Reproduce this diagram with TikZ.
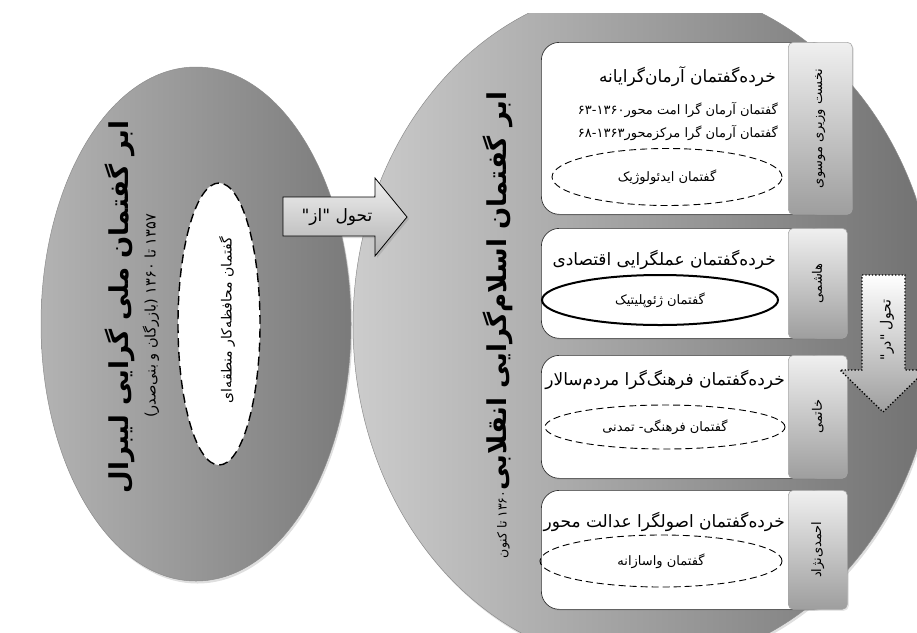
\documentclass[tikz,border=0pt]{standalone}
\usepackage{fontspec}
\usepackage{tikz}
\usetikzlibrary{positioning}
\usetikzlibrary{shapes.geometric}
\usetikzlibrary{shadows}
\TeXXeTstate=1
\newfontfamily\arabicfont[Script=Arabic]{DejaVu Sans}
\newcommand{\pers}[1]{{\arabicfont\beginR #1\endR}}
\newcommand{\digs}[1]{\beginL#1\endL{}}
\newcommand{\zw}{^^^^200c}
\tikzstyle{bigell}=[draw=black!45, ellipse, line width=0.5pt, drop shadow={opacity=0.25, shadow xshift=1.5pt, shadow yshift=-2.5pt}]
\tikzstyle{innerell}=[draw, ellipse, fill=white, dash pattern=on 9pt off 5pt, line width=1.4pt]
\tikzstyle{panel}=[draw=black!80, rectangle, rounded corners=18pt, fill=white, line width=0.7pt, anchor=north west, drop shadow={opacity=0.2, shadow xshift=1.5pt, shadow yshift=-1.5pt}]
\tikzstyle{tab}=[draw=black!35, rectangle, rounded corners=5pt, top color=black!6, bottom color=black!38, line width=0.6pt, anchor=north west, drop shadow={opacity=0.2, shadow xshift=1.5pt, shadow yshift=-1.5pt}]
\tikzstyle{subell}=[draw, ellipse, line width=0.9pt, dash pattern=on 7pt off 4pt]
\tikzstyle{solidell}=[draw, ellipse, line width=2pt]
\tikzstyle{ptitle}=[font=\fontsize{17}{17}\selectfont, inner sep=0pt, anchor=east]
\tikzstyle{pline}=[font=\fontsize{13}{13}\selectfont, inner sep=0pt]
\tikzstyle{elltext}=[font=\fontsize{13}{13}\selectfont]
\tikzstyle{tabtext}=[rotate=90, font=\fontsize{13}{13}\selectfont]
\tikzstyle{shiftarrow}=[draw, line width=0.8pt, top color=black!6, bottom color=black!30, drop shadow={opacity=0.3, shadow xshift=2pt, shadow yshift=-2pt}]

\begin{document}
\begin{tikzpicture}[x=1pt, y=-1pt, inner sep=2pt]
\useasboundingbox (0,0) rectangle (917,632);
\clip (0,13) rectangle (917,632);

\node (isl) [bigell, minimum width=584pt, minimum height=680pt, left color=black!20, right color=black!56] at (645,325) {};
\node (lib) [bigell, minimum width=310pt, minimum height=514pt, left color=black!30, middle color=black!21, right color=black!52] at (196,324) {};

\node (libt) [rotate=90, font=\bfseries\fontsize{26}{26}\selectfont] at (120,307) {\pers{ابر گفتمان ملی گرایی لیبرال}};
\node (libs) [rotate=90, font=\fontsize{14.5}{14.5}\selectfont] at (151,316) {\pers{\digs{۱۳۵۷} تا \digs{۱۳۶۰} (\kern0pt بازرگان و بنی\zw صدر\kern0pt)}};
\node (libe) [innerell, minimum width=82pt, minimum height=282pt] at (219,324) {};
\node (libet) [rotate=90, font=\fontsize{14}{14}\selectfont] at (227,320) {\pers{گفتمان محافظه\zw کار منطقه\zw ای}};

\draw [shiftarrow] (283,197) -- (375,197) -- (375,178) -- (407,217) -- (375,256) -- (375,236) -- (283,236) -- cycle;
\node (from) [font=\fontsize{17}{17}\selectfont] at (337,217) {\pers{تحول "از"}};

\node (islt) [rotate=90] at (498,325) {\pers{{\bfseries\fontsize{26}{26}\selectfont ابر گفتمان اسلام\zw گرایی انقلابی}{\fontsize{12.5}{12.5}\selectfont\digs{۱۳۶۰} تا کنون}}};

\node (pan1) [panel, minimum width=289pt, minimum height=172pt] at (541,42) {};
\node (pan2) [panel, minimum width=289pt, minimum height=110pt] at (541,228) {};
\node (pan3) [panel, minimum width=289pt, minimum height=123pt] at (541,355) {};
\node (pan4) [panel, minimum width=289pt, minimum height=119pt] at (541,490) {};

\node (tab1) [tab, minimum width=64pt, minimum height=172pt] at (788,42) {};
\node (tab2) [tab, minimum width=59pt, minimum height=110pt] at (788,228) {};
\node (tab3) [tab, minimum width=59pt, minimum height=123pt] at (788,355) {};
\node (tab4) [tab, minimum width=59pt, minimum height=119pt] at (788,490) {};
\node (tab1t) [tabtext] at (tab1.center) {\pers{نخست وزیری موسوی}};
\node (tab2t) [tabtext] at (tab2.center) {\pers{هاشمی}};
\node (tab3t) [tabtext] at (tab3.center) {\pers{خاتمی}};
\node (tab4t) [tabtext] at (tab4.center) {\pers{احمدی\zw نژاد}};

\node (pan1t) [ptitle] at (776,77) {\pers{خرده\zw گفتمان آرمان\zw گرایانه}};
\node (pan1a) [pline, anchor=east] at (778,110) {\pers{گفتمان آرمان گرا امت محور\digs{۱۳۶۰}-\digs{۶۳}}};
\node (pan1b) [pline, below left=7pt and 0pt of pan1a.south east] {\pers{گفتمان آرمان گرا مرکزمحور\digs{۱۳۶۳}-\digs{۶۸}}};
\node (ell1) [subell, elltext, minimum width=230pt, minimum height=57pt] at (667,177) {\pers{گفتمان ایدئولوژیک}};

\node (pan2t) [ptitle] at (776,260) {\pers{خرده\zw گفتمان عملگرایی اقتصادی}};
\node (ell2) [solidell, elltext, minimum width=236pt, minimum height=50pt] at (660,300) {\pers{گفتمان ژئوپلیتیک}};

\node (pan3t) [ptitle] at (785,380) {\pers{خرده\zw گفتمان فرهنگ\zw گرا مردم\zw سالار}};
\node (ell3) [subell, elltext, minimum width=240pt, minimum height=44pt] at (665,427) {\pers{گفتمان فرهنگی- تمدنی}};

\node (pan4t) [ptitle] at (785,522) {\pers{خرده\zw گفتمان اصولگرا عدالت محور}};
\node (ell4) [subell, elltext, minimum width=242pt, minimum height=52pt] at (661,561) {\pers{گفتمان واسازانه}};

\draw [dotted, line width=1.3pt, top color=white, bottom color=black!38] (862,275) -- (905,275) -- (905,370) -- (926,370) -- (883,412) -- (840,370) -- (862,370) -- cycle;
\node (into) [rotate=90, font=\fontsize{14}{14}\selectfont] at (887,330) {\pers{تحول "در"}};
\end{tikzpicture}
\end{document}
